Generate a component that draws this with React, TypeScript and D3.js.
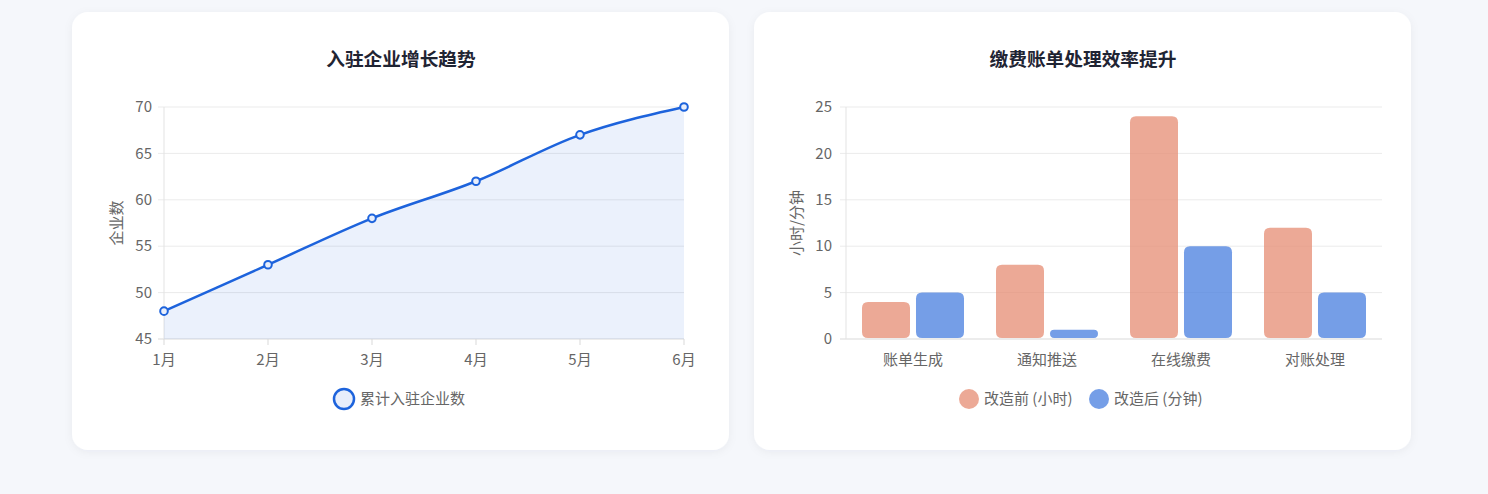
import React from "react";
import * as d3 from "d3";

const months = ["1月", "2月", "3月", "4月", "5月", "6月"];
const companies = [48, 53, 58, 62, 67, 70];
const lineTicks = [45, 50, 55, 60, 65, 70];

const stages = ["账单生成", "通知推送", "在线缴费", "对账处理"];
const beforeHours = [4, 8, 24, 12];
const afterMinutes = [5, 1, 10, 5];
const barTicks = [0, 5, 10, 15, 20, 25];

const FONT = "'Microsoft YaHei', 'Noto Sans CJK SC', 'Noto Sans', sans-serif";
const TICK = "#666666";
const GRID = "#ebebeb";
const FS = 15;

function roundedBar(x: number, y: number, w: number, h: number, r: number) {
  const rr = Math.min(r, w / 2, h / 2);
  return `M${x},${y + h - rr} L${x},${y + rr} Q${x},${y} ${x + rr},${y} L${x + w - rr},${y} Q${x + w},${y} ${x + w},${y + rr} L${x + w},${y + h - rr} Q${x + w},${y + h} ${x + w - rr},${y + h} L${x + rr},${y + h} Q${x},${y + h} ${x},${y + h - rr} Z`;
}

function LineCard() {
  const left = 164, right = 684, top = 107, bottom = 339;
  const x = d3.scalePoint<string>().domain(months).range([left, right]);
  const y = d3.scaleLinear().domain([45, 70]).range([bottom, top]);
  const pts: [number, number][] = months.map((m, i) => [x(m)!, y(companies[i])]);
  const line = d3.line<[number, number]>().curve(d3.curveMonotoneX)(pts)!;
  const area = d3
    .area<[number, number]>()
    .curve(d3.curveMonotoneX)
    .x((d) => d[0])
    .y0(bottom)
    .y1((d) => d[1])(pts)!;
  return (
    <g>
      <rect x={72} y={12} width={657} height={438} rx={16} fill="#fff" filter="url(#sh)" />
      <text x={401} y={66} textAnchor="middle" fontSize={18.7} fontWeight={700} fill="#1f2433" fontFamily={FONT}>
        入驻企业增长趋势
      </text>
      {lineTicks.map((t) => (
        <g key={t}>
          <line x1={left - 6} x2={right} y1={y(t)} y2={y(t)} stroke={t === 45 ? "#d9d9d9" : GRID} />
          <text x={left - 12} y={y(t)} dy="0.35em" textAnchor="end" fontSize={FS} fill={TICK} fontFamily={FONT}>
            {t}
          </text>
        </g>
      ))}
      {months.map((m) => (
        <g key={m}>
          <line x1={x(m)} x2={x(m)} y1={bottom} y2={bottom + 6} stroke="#d9d9d9" />
          <text x={x(m)} y={bottom + 26} textAnchor="middle" fontSize={FS} fill={TICK} fontFamily={FONT}>
            {m}
          </text>
        </g>
      ))}
      <line x1={left} x2={left} y1={top} y2={bottom} stroke="#e3e3e3" />
      <text
        transform={`translate(122,${(top + bottom) / 2}) rotate(-90)`}
        textAnchor="middle"
        fontSize={FS}
        fill={TICK}
        fontFamily={FONT}
      >
        企业数
      </text>
      <path d={area} fill="rgba(29,99,220,0.09)" />
      <path d={line} fill="none" stroke="#1d63dc" strokeWidth={2.5} />
      {pts.map((p, i) => (
        <circle key={i} cx={p[0]} cy={p[1]} r={3.8} fill="#e8eefb" stroke="#1d63dc" strokeWidth={2} />
      ))}
      <circle cx={344} cy={399} r={10} fill="#e8eefb" stroke="#1d63dc" strokeWidth={2.5} />
      <text x={360} y={399} dy="0.35em" fontSize={FS} fill={TICK} fontFamily={FONT}>
        累计入驻企业数
      </text>
    </g>
  );
}

function BarCard() {
  const left = 846, right = 1382, top = 107, bottom = 339;
  const x = d3.scaleBand<string>().domain(stages).range([left, right]);
  const groupW = 102;
  const inner = d3.scaleBand<string>().domain(["before", "after"]).range([0, groupW]).paddingInner(0.111);
  const y = d3.scaleLinear().domain([0, 25]).range([bottom, top]);
  const before = "rgba(229,140,115,0.75)";
  const after = "rgba(74,128,224,0.76)";
  return (
    <g>
      <rect x={754} y={12} width={657} height={438} rx={16} fill="#fff" filter="url(#sh)" />
      <text x={1083} y={66} textAnchor="middle" fontSize={18.7} fontWeight={700} fill="#1f2433" fontFamily={FONT}>
        缴费账单处理效率提升
      </text>
      {barTicks.map((t) => (
        <g key={t}>
          <line x1={left - 6} x2={right} y1={y(t)} y2={y(t)} stroke={t === 0 ? "#d9d9d9" : GRID} />
          <text x={left - 14} y={y(t)} dy="0.35em" textAnchor="end" fontSize={FS} fill={TICK} fontFamily={FONT}>
            {t}
          </text>
        </g>
      ))}
      <line x1={left} x2={left} y1={top} y2={bottom} stroke="#e3e3e3" />
      <text
        transform={`translate(802,${(top + bottom) / 2}) rotate(-90)`}
        textAnchor="middle"
        fontSize={FS}
        fill={TICK}
        fontFamily={FONT}
      >
        小时/分钟
      </text>
      {stages.map((s, i) => {
        const c = x(s)! + x.bandwidth() / 2 - groupW / 2;
        const bw = inner.bandwidth();
        const xb = c + inner("before")!;
        const xa = c + inner("after")!;
        return (
          <g key={s}>
            <path d={roundedBar(xb, y(beforeHours[i]), bw, bottom - y(beforeHours[i]) - 1, 6)} fill={before} />
            <path d={roundedBar(xa, y(afterMinutes[i]), bw, bottom - y(afterMinutes[i]) - 1, 6)} fill={after} />
            <text x={x(s)! + x.bandwidth() / 2} y={bottom + 26} textAnchor="middle" fontSize={FS} fill={TICK} fontFamily={FONT}>
              {s}
            </text>
          </g>
        );
      })}
      <circle cx={969} cy={399} r={10} fill={before} />
      <text x={984} y={399} dy="0.35em" fontSize={FS} fill={TICK} fontFamily={FONT}>
        改造前 (小时)
      </text>
      <circle cx={1099} cy={399} r={10} fill={after} />
      <text x={1114} y={399} dy="0.35em" fontSize={FS} fill={TICK} fontFamily={FONT}>
        改造后 (分钟)
      </text>
    </g>
  );
}

export default function App() {
  return (
    <svg
      width={1488}
      height={494}
      style={{ position: "absolute", left: 0, top: 0, display: "block" }}
    >
      <defs>
        <filter id="sh" x="-5%" y="-5%" width="110%" height="115%">
          <feDropShadow dx={0} dy={2} stdDeviation={4} floodColor="#1e2a50" floodOpacity={0.05} />
        </filter>
      </defs>
      <rect width={1488} height={494} fill="#f5f7fb" />
      <LineCard />
      <BarCard />
    </svg>
  );
}
